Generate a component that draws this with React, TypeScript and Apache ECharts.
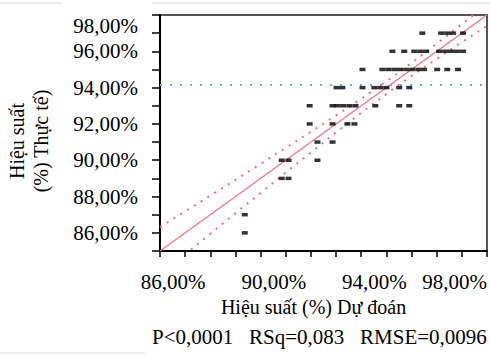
import React, { useEffect, useRef } from "react";
import * as echarts from "echarts";

// Observed ("Thực tế") levels, in %, and the predicted values seen on each level
const actualLevels = [86, 87, 89, 90, 91, 92, 93, 94, 95, 96, 97];
const predictedByLevel = [
  [88.37],
  [88.37],
  [89.84, 90.11],
  [89.84, 90.11, 91.26],
  [91.26, 91.86],
  [90.95, 91.86, 92.45, 92.73],
  [90.95, 91.86, 92.06, 92.29, 92.53, 92.77, 93.56, 94.51, 94.91],
  [92.02, 92.25, 93.05, 93.52, 93.76, 94.0, 94.51, 94.91],
  [93.05, 93.84, 94.08, 94.32, 94.55, 94.79, 95.03, 95.27, 95.5, 96.02, 96.42, 96.85],
  [94.24, 94.71, 95.11, 95.35, 95.58, 96.1, 96.34, 96.57, 96.81, 97.05],
  [95.43, 96.18, 96.42, 96.65, 97.05],
];

// Fit line (y = x) and its confidence band
const fitX = [85, 98];
const fitY = [85, 98];
const bandX = [85, 86, 87, 88, 89, 90, 91, 92, 93, 94, 95, 96, 97, 98];
const bandUpper = [86.32, 87.18, 88.05, 88.92, 89.8, 90.68, 91.57, 92.47, 93.39, 94.35, 95.36, 96.42, 97.5, 98.6];
const bandLower = [83.68, 84.82, 85.95, 87.08, 88.2, 89.32, 90.43, 91.53, 92.61, 93.65, 94.64, 95.58, 96.5, 97.4];
const meanActual = 94.15;

const axisMin = 85;
const axisMax = 98;
const xLabelValues = [86, 90, 94, 98];
const yLabelValues = [86, 88, 90, 92, 94, 96, 98];

const xAxisTitle = "Hiệu suất (%) Dự đoán";
const yAxisTitle = "Hiệu suất\n(%) Thực tế)";
const statsText = "P<0,0001   RSq=0,083   RMSE=0,0096";

const FONT = "Liberation Serif";
const fmt = (v: number) => `${Math.round(v)},00%`;

export default function App() {
  const ref = useRef<HTMLDivElement>(null);

  useEffect(() => {
    if (!ref.current) return;
    const chart = echarts.init(ref.current, undefined, { renderer: "svg" });

    const points: number[][] = [];
    actualLevels.forEach((a, i) => {
      predictedByLevel[i].forEach((p) => points.push([p, a]));
    });

    const option: any = {
      animation: false,
      backgroundColor: "#ffffff",
      textStyle: { fontFamily: FONT },
      grid: {
        left: 160,
        right: 2,
        top: 15,
        bottom: 105,
        show: true,
        borderColor: "#555",
        borderWidth: 2,
        backgroundColor: "transparent",
      },
      xAxis: {
        type: "value",
        min: axisMin,
        max: axisMax,
        interval: 1,
        name: xAxisTitle,
        nameLocation: "middle",
        nameGap: 38,
        nameTextStyle: {
          fontFamily: FONT,
          fontSize: 20,
          color: "#000",
          padding: [0, 20, 0, 0],
        },
        axisLine: { show: true, onZero: false, lineStyle: { color: "#000", width: 2 } },
        axisTick: { show: true, length: 6, lineStyle: { color: "#000", width: 1.5 } },
        splitLine: { show: false },
        axisLabel: {
          margin: 20,
          showMaxLabel: true,
          alignMaxLabel: "right",
          formatter: (v: number) => {
            const r = Math.round(v);
            if (!xLabelValues.includes(r)) return "";
            return r === axisMax ? `{m|${fmt(r)}}` : `{n|${fmt(r)}}`;
          },
          rich: {
            n: { fontFamily: FONT, fontSize: 21, color: "#000", padding: [0, 24, 0, 0] },
            m: { fontFamily: FONT, fontSize: 21, color: "#000" },
          },
        },
      },
      yAxis: {
        type: "value",
        min: axisMin,
        max: axisMax,
        interval: 1,
        axisLine: { show: true, onZero: false, lineStyle: { color: "#000", width: 2 } },
        axisTick: { show: true, length: 8, lineStyle: { color: "#000", width: 1.5 } },
        splitLine: { show: false },
        axisLabel: {
          margin: 22,
          showMaxLabel: true,
          verticalAlignMaxLabel: "top",
          fontFamily: FONT,
          fontSize: 21,
          color: "#000",
          formatter: (v: number) => {
            const r = Math.round(v);
            return yLabelValues.includes(r) ? fmt(r) : "";
          },
        },
      },
      series: [
        {
          type: "line",
          data: [
            [axisMin, meanActual],
            [axisMax, meanActual],
          ],
          showSymbol: false,
          silent: true,
          lineStyle: { color: "#62b0f0", width: 2, type: [2, 8] },
          z: 2,
        },
        {
          type: "line",
          data: fitX.map((x, i) => [x, fitY[i]]),
          showSymbol: false,
          silent: true,
          lineStyle: { color: "#f47a8b", width: 1.5 },
          z: 3,
        },
        {
          type: "line",
          data: bandX.map((x, i) => [x, bandUpper[i]]),
          showSymbol: false,
          smooth: true,
          silent: true,
          lineStyle: { color: "#f26a84", width: 2, type: [2, 6] },
          z: 3,
        },
        {
          type: "line",
          data: bandX.map((x, i) => [x, bandLower[i]]),
          showSymbol: false,
          smooth: true,
          silent: true,
          lineStyle: { color: "#f26a84", width: 2, type: [2, 6] },
          z: 3,
        },
        {
          type: "scatter",
          data: points,
          symbol: "rect",
          symbolSize: [6, 3.5],
          itemStyle: { color: "#000" },
          z: 5,
        },
      ],
      graphic: [
        {
          type: "text",
          x: 29,
          y: 141,
          rotation: Math.PI / 2,
          style: {
            text: yAxisTitle,
            fontFamily: FONT,
            fontSize: 20,
            lineHeight: 24,
            fill: "#000",
            align: "center",
            verticalAlign: "middle",
          },
        },
        {
          type: "text",
          x: 152,
          y: 337,
          style: {
            text: statsText,
            fontFamily: FONT,
            fontSize: 21,
            fill: "#000",
            align: "left",
            verticalAlign: "middle",
          },
        },
        {
          type: "line",
          shape: { x1: 0, y1: 3, x2: 62, y2: 3 },
          style: { stroke: "#dcdcdc", lineWidth: 1 },
        },
        {
          type: "line",
          shape: { x1: 152, y1: 3, x2: 490, y2: 3 },
          style: { stroke: "#dcdcdc", lineWidth: 1 },
        },
        {
          type: "line",
          shape: { x1: 0, y1: 353, x2: 145, y2: 353 },
          style: { stroke: "#dcdcdc", lineWidth: 1 },
        },
      ],
    };

    chart.setOption(option);
    return () => chart.dispose();
  }, []);

  return (
    <div
      ref={ref}
      style={{ position: "fixed", left: 0, top: 0, width: 490, height: 356, background: "#fff" }}
    />
  );
}
